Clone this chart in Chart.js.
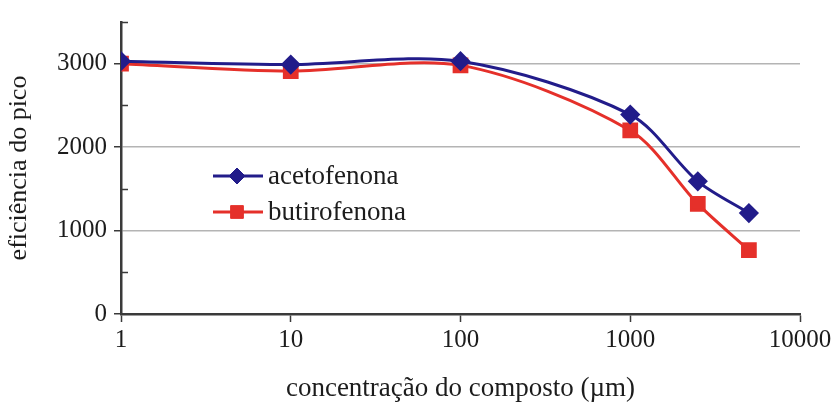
<!DOCTYPE html>
<html>
<head>
<meta charset="utf-8">
<script src="https://cdn.jsdelivr.net/npm/chart.js@4/dist/chart.umd.min.js"></script>
<style>
  html, body { margin: 0; padding: 0; background: #fff; }
  #wrap { width: 835px; height: 409px; }
</style>
</head>
<body>
<div id="wrap"><canvas id="chart" width="835" height="409"></canvas></div>
<script>
// data
const concentracao = [1, 10, 100, 1000, 2500, 5000];
const acetofenona = [3030, 2990, 3030, 2390, 1590, 1210];
const butirofenona = [3000, 2910, 2980, 2200, 1320, 765];
const xTicks = [1, 10, 100, 1000, 10000];

const FONT = 'Liberation Serif';
const BLUE = '#221c8a';
const RED = '#e5302a';
const AXIS = '#3a3a3a';
const TEXT = '#1c1c1c';

const toPoints = vals => vals.map((v, i) => ({ x: concentracao[i], y: v }));

// minor ticks inside the y axis + legend inside the plot
const extras = {
  id: 'extras',
  afterDraw(chart) {
    const ctx = chart.ctx;
    const y = chart.scales.y;
    const left = chart.chartArea.left;
    ctx.save();
    ctx.strokeStyle = AXIS;
    ctx.lineWidth = 1.5;
    [500, 1500, 2500, 3500].forEach(v => {
      const py = Math.round(y.getPixelForValue(v)) + 0.5;
      ctx.beginPath();
      ctx.moveTo(left, py);
      ctx.lineTo(left + 7, py);
      ctx.stroke();
    });

    // legend
    const rows = [176, 212];
    chart.data.datasets.forEach((ds, i) => {
      const ry = rows[i];
      ctx.strokeStyle = ds.borderColor;
      ctx.lineWidth = 3;
      ctx.beginPath();
      ctx.moveTo(213, ry);
      ctx.lineTo(263, ry);
      ctx.stroke();
      ctx.fillStyle = ds.pointBackgroundColor;
      ctx.strokeStyle = ds.pointBorderColor;
      ctx.lineWidth = 1;
      Chart.helpers.drawPoint(ctx, { pointStyle: ds.pointStyle, radius: ds.pointRadius, borderWidth: 1, rotation: 0 }, 237, ry);
      ctx.fillStyle = TEXT;
      ctx.font = '27px "' + FONT + '"';
      ctx.textBaseline = 'middle';
      ctx.textAlign = 'left';
      ctx.fillText(ds.label, 268, ry + 1);
    });
    ctx.restore();
  }
};

new Chart(document.getElementById('chart').getContext('2d'), {
  type: 'line',
  data: {
    datasets: [{
      label: 'acetofenona',
      data: toPoints(acetofenona),
      borderColor: BLUE,
      backgroundColor: BLUE,
      pointBackgroundColor: BLUE,
      pointBorderColor: BLUE,
      pointStyle: 'rectRot',
      pointRadius: 8,
      borderWidth: 3,
      tension: 0.3
    }, {
      label: 'butirofenona',
      data: toPoints(butirofenona),
      borderColor: RED,
      backgroundColor: RED,
      pointBackgroundColor: RED,
      pointBorderColor: RED,
      pointStyle: 'rect',
      pointRadius: 9,
      borderWidth: 3,
      tension: 0.3
    }]
  },
  options: {
    responsive: false,
    animation: false,
    layout: { padding: { top: 15, right: 35, left: 0, bottom: 0 } },
    plugins: { legend: { display: false }, tooltip: { enabled: false } },
    scales: {
      x: {
        type: 'logarithmic',
        min: 1,
        max: 10000,
        afterBuildTicks: axis => { axis.ticks = xTicks.map(v => ({ value: v })); },
        afterFit: axis => { axis.height = 95; },
        ticks: {
          color: TEXT,
          font: { family: FONT, size: 25 },
          padding: 3,
          maxRotation: 0,
          autoSkip: false,
          callback: v => String(v)
        },
        grid: { display: true, drawOnChartArea: false, tickLength: 8, tickColor: AXIS, tickWidth: 1.5 },
        border: { color: AXIS, width: 2.5 },
        title: {
          display: true,
          text: 'concentração do composto (µm)',
          color: TEXT,
          font: { family: FONT, size: 27 },
          padding: { top: 14 }
        }
      },
      y: {
        min: 0,
        max: 3500,
        afterFit: axis => { axis.width = 121; },
        ticks: {
          stepSize: 500,
          color: TEXT,
          font: { family: FONT, size: 25 },
          padding: 7,
          callback: v => (v % 1000 === 0 ? String(v) : '')
        },
        grid: {
          color: c => (c.tick && c.tick.value % 1000 === 0 && c.tick.value > 0 && c.tick.value < 3500) ? '#b4b4b4' : 'rgba(0,0,0,0)',
          lineWidth: 1.5,
          tickLength: 7,
          tickColor: c => (c.tick && c.tick.value % 1000 === 0) ? AXIS : 'rgba(0,0,0,0)'
        },
        border: { color: AXIS, width: 2.5 },
        title: {
          display: true,
          text: 'eficiência do pico',
          color: TEXT,
          font: { family: FONT, size: 26 },
          padding: { bottom: 2 }
        }
      }
    }
  },
  plugins: [extras]
});
</script>
</body>
</html>
